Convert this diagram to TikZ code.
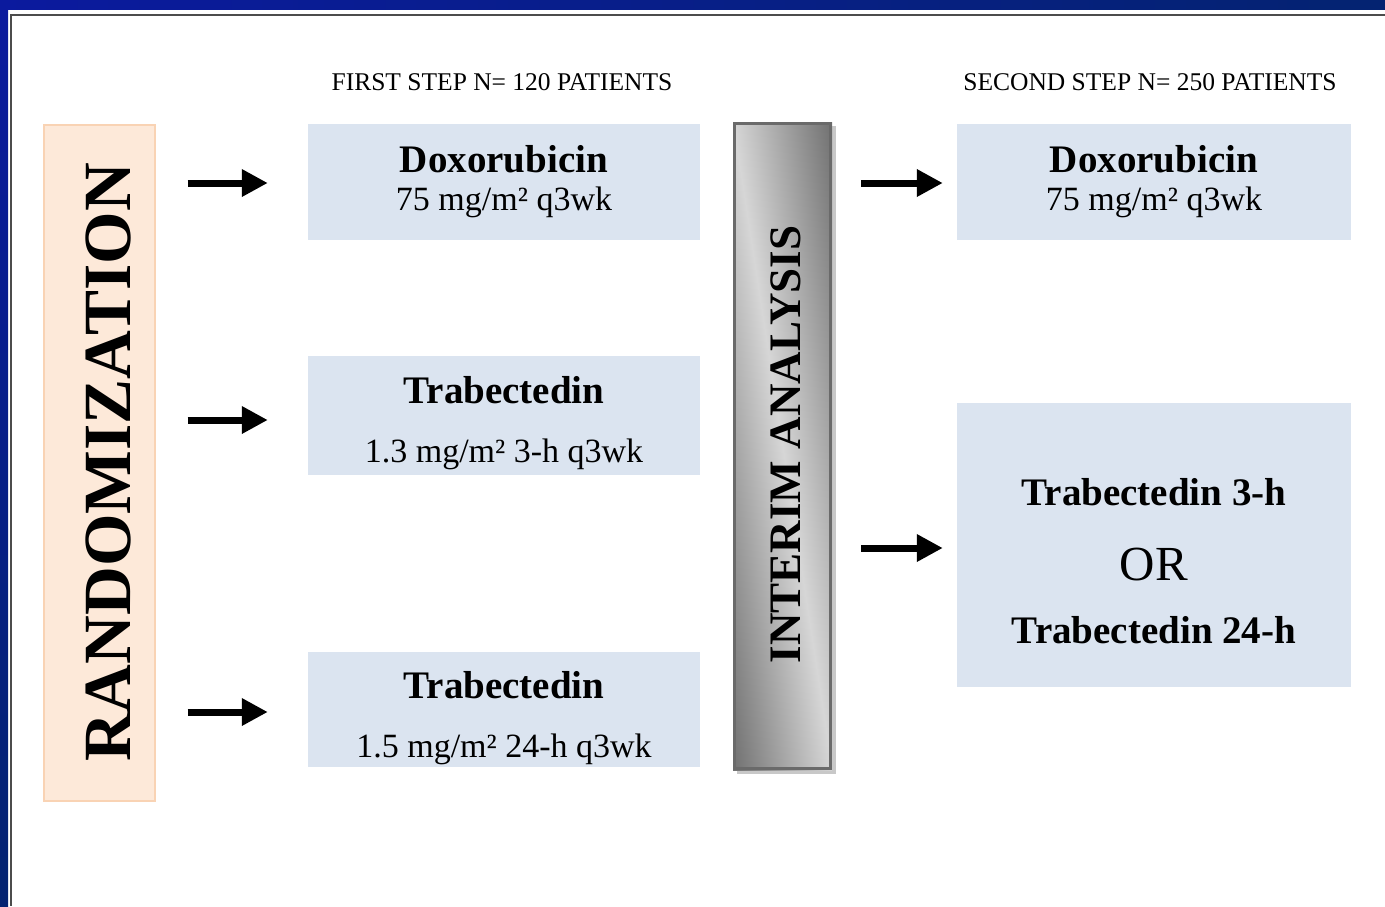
\documentclass[tikz,border=0pt]{standalone}
\usepackage{fontspec}
\setmainfont{Liberation Serif}
\usetikzlibrary{arrows.meta}
\definecolor{boxblue}{HTML}{DBE4F0}
\definecolor{peach}{HTML}{FDE9D9}
\definecolor{peachline}{HTML}{F9D3B4}
\definecolor{frameblueA}{HTML}{0B1A9E}
\definecolor{frameblueB}{HTML}{042371}
\definecolor{bardark}{HTML}{6E6E6E}
\definecolor{barlight}{HTML}{D6D6D6}
\definecolor{barline}{HTML}{6A6A6A}
\definecolor{shadowgray}{HTML}{C8C8C8}
\tikzset{
  bluebox/.style={fill=boxblue, draw=none, inner sep=0pt},
  drugname/.style={font=\fontsize{39}{40}\selectfont\bfseries, inner sep=0pt, anchor=base},
  dose/.style={font=\fontsize{34}{36}\selectfont, inner sep=0pt, anchor=base},
  steptitle/.style={font=\fontsize{25.5}{27}\selectfont, inner sep=0pt, anchor=base},
  fatarrow/.style={line width=7pt, -{Triangle[length=26pt,width=26pt]}},
}
\begin{document}
\begin{tikzpicture}[x=1pt, y=-1pt]
\useasboundingbox (0,0) rectangle (1385,906);
\fill[white] (0,0) rectangle (1385,906);
% blue frame
\shade[left color=frameblueA, right color=frameblueB] (0,0) rectangle (1385,9);
\shade[top color=frameblueA, bottom color=frameblueB] (0,0) rectangle (8,906);
\draw[line width=2.5pt, black!70] (1385,15) -- (11,15) -- (11,906);

% titles
\node[steptitle] (t1) at (502,90) {FIRST STEP N= 120 PATIENTS};
\node[steptitle] (t2) at (1150,90) {SECOND STEP N= 250 PATIENTS};

% randomization box
\node[fill=peach, draw=peachline, line width=2pt, minimum width=111pt, minimum height=676pt, inner sep=0pt] (rand) at (99,462.5) {};
\node[font=\fontsize{67.5}{69}\selectfont\bfseries, rotate=90, anchor=base, inner sep=0pt] (randt) at (130,462.5) {RANDOMIZATION};

% first step boxes
\node[bluebox, minimum width=392pt, minimum height=116pt] (b1) at (504,182) {};
\node[bluebox, minimum width=392pt, minimum height=119pt] (b2) at (504,415.5) {};
\node[bluebox, minimum width=392pt, minimum height=115pt] (b3) at (504,709.5) {};
\node[drugname] (b1n) at (504,172) {Doxorubicin};
\node[dose] (b1d) at (504,210) {75 mg/m² q3wk};
\node[drugname] (b2n) at (504,403) {Trabectedin};
\node[dose] (b2d) at (504,462) {1.3 mg/m² 3-h q3wk};
\node[drugname] (b3n) at (504,698) {Trabectedin};
\node[dose] (b3d) at (504,757) {1.5 mg/m² 24-h q3wk};

% interim analysis bar
\fill[shadowgray] (737,126) rectangle (836,774);
\begin{scope}
  \clip (733,122) rectangle (832,770);
  \shade[left color=bardark, right color=bardark, middle color=barlight,
         transform canvas={rotate around={8.7:(782.5,446)}}]
         (682,60) rectangle (883,832);
\end{scope}
\node[draw=barline, line width=3pt, minimum width=96pt, minimum height=645pt, inner sep=0pt] (ia) at (782.5,446) {};
\node[font=\fontsize{45}{46}\selectfont\bfseries, rotate=90, anchor=base, inner sep=0pt] (iat) at (800,444.5) {INTERIM ANALYSIS};

% second step boxes
\node[bluebox, minimum width=394pt, minimum height=116pt] (b4) at (1154,182) {};
\node[bluebox, minimum width=394pt, minimum height=284pt] (b5) at (1154,545) {};
\node[drugname] (b4n) at (1154,172) {Doxorubicin};
\node[dose] (b4d) at (1154,210) {75 mg/m² q3wk};
\node[drugname] (b5a) at (1154,505) {Trabectedin 3-h};
\node[font=\fontsize{49}{50}\selectfont, inner sep=0pt, anchor=base] (b5or) at (1154,580) {OR};
\node[drugname] (b5b) at (1154,643) {Trabectedin 24-h};

% arrows
\draw[fatarrow] ([xshift=32pt,yshift=-1pt]rand.east |- b1.west) -- ([xshift=-40pt,yshift=-1pt]b1.west);
\draw[fatarrow] ([xshift=32pt,yshift=-4.5pt]rand.east |- b2.west) -- ([xshift=-40pt,yshift=-4.5pt]b2.west);
\draw[fatarrow] ([xshift=32pt,yshift=-2.5pt]rand.east |- b3.west) -- ([xshift=-40pt,yshift=-2.5pt]b3.west);
\draw[fatarrow] ([xshift=29pt,yshift=-1pt]ia.east |- b4.west) -- ([xshift=-14pt,yshift=-1pt]b4.west);
\draw[fatarrow] ([xshift=29pt,yshift=-3pt]ia.east |- b5.west) -- ([xshift=-14pt,yshift=-3pt]b5.west);
\end{tikzpicture}
\end{document}
